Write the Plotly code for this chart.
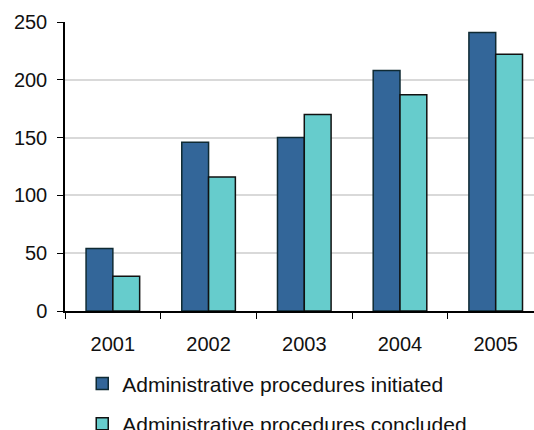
import plotly.graph_objects as go

years = ["2001", "2002", "2003", "2004", "2005"]
initiated = [54, 146, 150, 208, 241]
concluded = [30, 116, 170, 187, 222]
y_ticks = [0, 50, 100, 150, 200, 250]

FONT = "Liberation Sans, Arial, sans-serif"

fig = go.Figure()
fig.add_trace(go.Bar(x=years, y=initiated, name="Administrative procedures initiated",
                     legendgroup="a",
                     marker=dict(color="#336699", line=dict(color="#0f2a33", width=1.5))))
fig.add_trace(go.Bar(x=years, y=concluded, name="Administrative procedures concluded",
                     legendgroup="b",
                     marker=dict(color="#66CCCC", line=dict(color="#111111", width=1.5))))

fig.update_layout(
    width=534, height=430,
    margin=dict(l=65, r=0, t=22, b=119, autoexpand=False),
    paper_bgcolor="white", plot_bgcolor="white",
    barmode="group", bargap=0.44, bargroupgap=0,
    font=dict(family=FONT, size=20, color="#111111"),
    showlegend=True,
    legend=dict(orientation="v", xref="container", yref="container",
                x=0.154, xanchor="left", y=0.155, yanchor="top",
                font=dict(size=21), bgcolor="rgba(0,0,0,0)", tracegroupgap=10,
                traceorder="grouped"),
    xaxis=dict(range=[-0.5, 4.4], showline=True, linecolor="black", linewidth=1.5,
               ticks="outside", tickson="boundaries", ticklen=6, tickcolor="black",
               showgrid=False, ticklabelstandoff=14),
    yaxis=dict(range=[0, 250], tickvals=y_ticks, showline=True, linecolor="black",
               linewidth=1.5, ticks="outside", ticklen=6, tickcolor="black",
               showgrid=True, gridcolor="#d9d9d9", gridwidth=1.5, zeroline=False,
               ticklabelstandoff=6),
)

fig.write_html("out.html")
